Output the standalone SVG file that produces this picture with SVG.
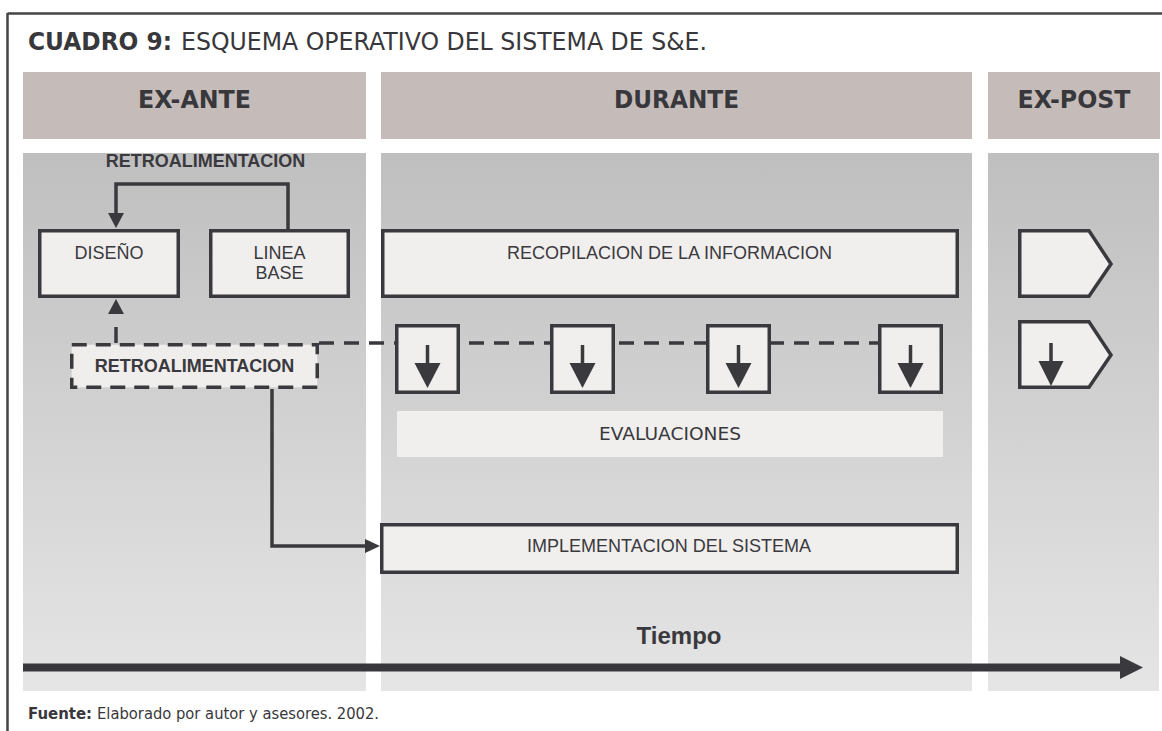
<svg xmlns="http://www.w3.org/2000/svg" width="1162" height="731" viewBox="0 0 1162 731">
<style>
.hdr{fill:#c5bcb9}
.col{fill:url(#colgrad)}
.box{fill:#f0efee;stroke:#3a393d;stroke-width:3.5}
.dbox{fill:#efeeec;stroke:#3a393d;stroke-width:3.5;stroke-dasharray:15 9}
.ln{fill:none;stroke:#3a393d;stroke-width:3.5}
.dash{fill:none;stroke:#3a393d;stroke-width:3.5;stroke-dasharray:15 10}
.head{fill:#3a393d}
.t{font-family:"Liberation Sans",Arial,sans-serif;font-size:18px;fill:#3a393d;text-anchor:middle}
.tb{font-family:"Liberation Sans",Arial,sans-serif;font-size:18px;font-weight:bold;fill:#3a393d;text-anchor:middle}
.th{font-family:"DejaVu Sans",Verdana,sans-serif;font-size:25px;font-weight:bold;fill:#38373b;text-anchor:middle}
.tt{font-family:"DejaVu Sans",Verdana,sans-serif;fill:#38373b}
</style>
<defs>
<linearGradient id="colgrad" gradientUnits="userSpaceOnUse" x1="0" y1="153" x2="0" y2="691">
<stop offset="0" stop-color="#bfbfbf"/>
<stop offset="1" stop-color="#e5e5e5"/>
</linearGradient>
</defs>

<g id="frame">
<line x1="7.5" y1="13.5" x2="1162" y2="13.5" stroke="#444" stroke-width="2.5"/>
<line x1="7.5" y1="13" x2="7.5" y2="731" stroke="#444" stroke-width="2.5"/>
</g>

<g id="title">
<text class="tt" x="28" y="50" font-size="25" font-weight="bold" textLength="144" lengthAdjust="spacingAndGlyphs">CUADRO 9:</text>
<text class="tt" x="181" y="50" font-size="25" textLength="526" lengthAdjust="spacingAndGlyphs">ESQUEMA OPERATIVO DEL SISTEMA DE S&amp;E.</text>
</g>

<g id="headers">
<rect class="hdr" x="23" y="72" width="343" height="67"/>
<rect class="hdr" x="381" y="72" width="591" height="67"/>
<rect class="hdr" x="988" y="72" width="172" height="67"/>
<text class="th" x="194.5" y="108" textLength="113" lengthAdjust="spacingAndGlyphs">EX-ANTE</text>
<text class="th" x="676.5" y="108" textLength="125" lengthAdjust="spacingAndGlyphs">DURANTE</text>
<text class="th" x="1074" y="108" textLength="113" lengthAdjust="spacingAndGlyphs">EX-POST</text>
</g>

<g id="columns">
<rect class="col" x="23" y="153" width="343" height="538"/>
<rect class="col" x="381" y="153" width="591" height="538"/>
<rect class="col" x="988" y="153" width="171" height="538"/>
</g>

<g id="connectors">
<path class="ln" d="M288 229 V184 H116 V214"/>
<polygon class="head" points="116,228 108,213 124,213"/>
<path class="dash" d="M319 343 H880"/>
<path class="ln" d="M116 343 V327"/>
<polygon class="head" points="116,299 108,314 124,314"/>
<path class="ln" d="M272 389 V546 H366"/>
<polygon class="head" points="380,546 365,539 365,553"/>
</g>

<g id="label-retro-top">
<text class="tb" x="205.5" y="166.5">RETROALIMENTACION</text>
</g>

<g id="diseno">
<rect class="box" x="39.75" y="230.75" width="138.5" height="65.5"/>
<text class="t" x="109" y="259">DISEÑO</text>
</g>

<g id="linea-base">
<rect class="box" x="210.75" y="230.75" width="137.5" height="65.5"/>
<text class="t" x="279.5" y="259">LINEA</text>
<text class="t" x="279.5" y="279">BASE</text>
</g>

<g id="recopilacion">
<rect class="box" x="382.75" y="230.75" width="574.5" height="65.5"/>
<text class="t" x="669.5" y="259">RECOPILACION DE LA INFORMACION</text>
</g>

<g id="retro-dashed">
<rect class="dbox" x="71.75" y="344.75" width="245.5" height="42.5"/>
<text class="tb" x="194.5" y="372">RETROALIMENTACION</text>
</g>

<g id="eval-1">
<rect class="box" x="396.75" y="325.75" width="61.5" height="66.5"/>
<line class="ln" x1="427.5" y1="345" x2="427.5" y2="365"/>
<polygon class="head" points="414.5,363 440.5,363 427.5,388"/>
</g>
<g id="eval-2">
<rect class="box" x="551.75" y="325.75" width="61.5" height="66.5"/>
<line class="ln" x1="582.5" y1="345" x2="582.5" y2="365"/>
<polygon class="head" points="569.5,363 595.5,363 582.5,388"/>
</g>
<g id="eval-3">
<rect class="box" x="707.75" y="325.75" width="61.5" height="66.5"/>
<line class="ln" x1="738.5" y1="345" x2="738.5" y2="365"/>
<polygon class="head" points="725.5,363 751.5,363 738.5,388"/>
</g>
<g id="eval-4">
<rect class="box" x="879.75" y="325.75" width="61.5" height="66.5"/>
<line class="ln" x1="910.5" y1="345" x2="910.5" y2="365"/>
<polygon class="head" points="897.5,363 923.5,363 910.5,388"/>
</g>

<g id="evaluaciones">
<rect x="397" y="411" width="546" height="46" fill="#f0efee"/>
<text class="tt" x="670" y="440" font-size="17" text-anchor="middle" textLength="142" lengthAdjust="spacingAndGlyphs">EVALUACIONES</text>
</g>

<g id="implementacion">
<rect class="box" x="381.75" y="524.75" width="575.5" height="47.5"/>
<text class="t" x="669" y="552">IMPLEMENTACION DEL SISTEMA</text>
</g>

<g id="expost-1">
<polygon class="box" points="1019.75,230.75 1089,230.75 1111,264 1089,296.25 1019.75,296.25"/>
</g>
<g id="expost-2">
<polygon class="box" points="1019.75,321.75 1089,321.75 1111,355 1089,387.25 1019.75,387.25"/>
<line class="ln" x1="1051" y1="343" x2="1051" y2="363"/>
<polygon class="head" points="1038.5,361 1063.5,361 1051,386"/>
</g>

<g id="time-axis">
<rect x="23" y="663.5" width="1098" height="8" fill="#38373b"/>
<polygon class="head" points="1143,667.5 1120,656 1120,679"/>
<text class="tb" x="679" y="644" style="font-size:24px">Tiempo</text>
</g>

<g id="footer">
<text class="tt" x="28" y="719" font-size="16.5" font-weight="bold" textLength="64" lengthAdjust="spacingAndGlyphs">Fuente:</text>
<text class="tt" x="97" y="719" font-size="16.5" textLength="282" lengthAdjust="spacingAndGlyphs">Elaborado por autor y asesores. 2002.</text>
</g>
</svg>
